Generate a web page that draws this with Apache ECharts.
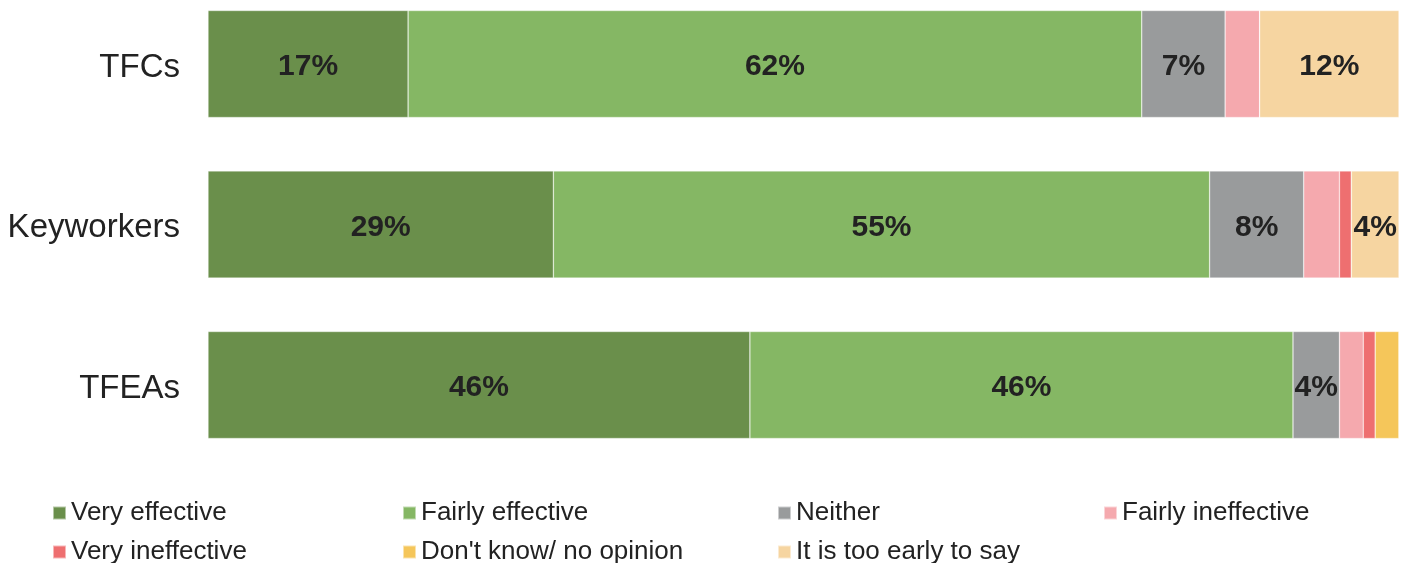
<!DOCTYPE html>
<html>
<head>
<meta charset="utf-8">
<script src="https://cdn.jsdelivr.net/npm/echarts@6/dist/echarts.min.js"></script>
<style>
  html, body { margin: 0; padding: 0; background: #fff; }
  #chart { width: 1413px; height: 563px; }
</style>
</head>
<body>
<div id="chart"></div>
<script>
// groups (top to bottom)
const groups = ["TFCs", "Keyworkers", "TFEAs"]

// share of answers per group, in %
const veryEffective     = [16.8, 29.0, 45.5]
const fairlyEffective   = [61.6, 55.1, 45.6]
const neither           = [7.0, 7.9, 3.9]
const fairlyIneffective = [2.9, 3.0, 2.0]
const veryIneffective   = [0, 1.0, 1.0]
const dontKnow          = [0, 0, 2.0]
const tooEarly          = [11.7, 4.0, 0]

const seriesNames = ["Very effective", "Fairly effective", "Neither", "Fairly ineffective",
  "Very ineffective", "Don't know/ no opinion", "It is too early to say"]
const seriesData = [veryEffective, fairlyEffective, neither, fairlyIneffective,
  veryIneffective, dontKnow, tooEarly]
const colors = ["#6a8f4b", "#85b764", "#999b9c", "#f5a9ae", "#ee6f70", "#f5c65a", "#f6d5a1"]

// legend slots (left, top)
const legendPos = [[47, 495], [397, 495], [772, 495], [1098, 495],
  [47, 534], [397, 534], [772, 534]]

const font = "'Liberation Sans', Arial, Helvetica, sans-serif"

let chart = echarts.init(document.getElementById("chart"))

chart.setOption({
  animation: false,
  color: colors,
  // category centres sit on the grid edges (boundaryGap false)
  grid: {
    left: 208,
    right: 14,
    top: 64,
    height: 321
  },
  legend: seriesNames.map((name, i) => ({
    data: [name],
    left: legendPos[i][0],
    top: legendPos[i][1],
    itemWidth: 13,
    itemHeight: 13,
    icon: "rect",
    selectedMode: false,
    textStyle: {
      fontFamily: font,
      fontSize: 26,
      color: "#222"
    }
  })),
  xAxis: {
    type: "value",
    min: 0,
    max: 100,
    show: false
  },
  yAxis: {
    type: "category",
    data: groups,
    inverse: true,
    boundaryGap: false,
    axisLine: { show: false },
    axisTick: { show: false },
    splitLine: { show: false },
    axisLabel: {
      margin: 28,
      formatter: (v) => "{g|" + v + "}",
      rich: {
        g: {
          fontFamily: font,
          fontSize: 33,
          color: "#222",
          padding: [7, 0, 0, 0]
        }
      }
    }
  },
  series: seriesNames.map((name, i) => ({
    name: name,
    type: "bar",
    stack: "total",
    barWidth: 107,
    data: seriesData[i],
    itemStyle: {
      borderColor: "rgba(255,255,255,0.5)",
      borderWidth: 0.6
    },
    label: {
      show: true,
      position: "inside",
      offset: [0, 3],
      fontFamily: font,
      fontSize: 30,
      fontWeight: "bold",
      color: "#222",
      formatter: (p) => p.value >= 3.5 ? Math.round(p.value) + "%" : ""
    }
  }))
})
</script>
</body>
</html>
